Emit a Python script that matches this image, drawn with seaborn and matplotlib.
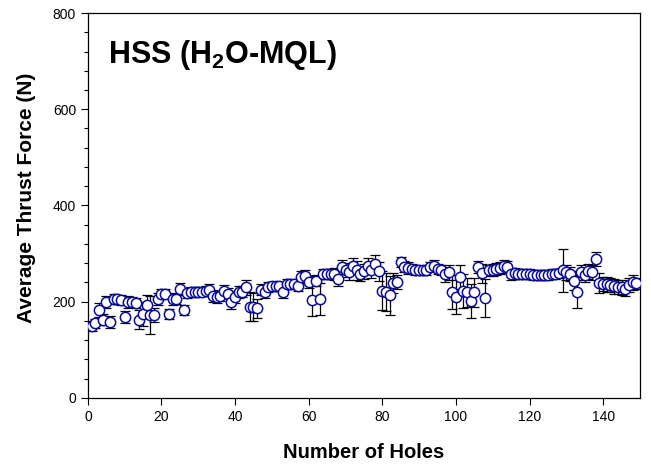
import numpy as np
import pandas as pd
import matplotlib
matplotlib.use("Agg")
import matplotlib.pyplot as plt
import seaborn as sns
from matplotlib.ticker import MultipleLocator

thrust = [
    149, 155, 183, 163, 199, 158, 206, 205, 204, 168,
    199, 199, 198, 163, 174, 194, 172, 173, 206, 217,
    217, 175, 206, 205, 227, 183, 218, 220, 220, 221,
    221, 223, 224, 212, 210, 211, 223, 217, 199, 210,
    220, 221, 230, 190, 189, 186, 225, 220, 230, 232,
    232, 232, 220, 237, 237, 236, 232, 251, 253, 241,
    203, 244, 205, 258, 258, 258, 258, 248, 272, 266,
    261, 275, 265, 258, 263, 275, 265, 279, 263, 223,
    220, 213, 239, 241, 282, 273, 270, 268, 266, 265,
    265, 265, 272, 275, 268, 266, 257, 261, 220, 210,
    251, 223, 220, 201, 220, 272, 259, 208, 265, 266,
    268, 270, 275, 272, 258, 259, 257, 258, 258, 257,
    256, 256, 256, 255, 255, 258, 258, 259, 265, 261,
    258, 244, 221, 261, 255, 263, 261, 289, 239, 237,
    236, 235, 232, 231, 230, 226, 235, 240, 238,
]
error = [
    10, 10, 15, 12, 12, 12, 10, 10, 10, 12,
    12, 10, 10, 20, 25, 20, 40, 15, 12, 10,
    10, 10, 12, 10, 12, 10, 10, 10, 10, 10,
    10, 10, 12, 12, 12, 10, 12, 12, 15, 12,
    12, 12, 15, 30, 30, 20, 12, 12, 10, 10,
    10, 10, 12, 10, 10, 10, 10, 12, 12, 12,
    33, 12, 33, 10, 10, 10, 12, 15, 15, 15,
    15, 15, 20, 15, 15, 15, 15, 18, 20, 40,
    40, 40, 20, 15, 10, 12, 12, 10, 10, 10,
    10, 10, 10, 12, 10, 10, 15, 15, 35, 35,
    25, 35, 30, 35, 30, 12, 20, 40, 12, 12,
    12, 12, 12, 12, 12, 12, 10, 10, 10, 10,
    10, 10, 10, 10, 10, 10, 10, 10, 45, 15,
    15, 20, 35, 15, 15, 15, 15, 15, 20, 15,
    15, 15, 15, 15, 15, 15, 15, 15, 12,
]
holes = np.arange(1, len(thrust) + 1)

df = pd.DataFrame({"Holes": holes, "Thrust": thrust, "Err": error})

sns.set_theme(style="white")
plt.rcParams["font.family"] = ["Liberation Sans", "DejaVu Sans"]
plt.rcParams["mathtext.fontset"] = "custom"
plt.rcParams["mathtext.rm"] = "Liberation Sans"
plt.rcParams["mathtext.bf"] = "Liberation Sans:bold"
for k in ["text.color", "axes.labelcolor", "xtick.color", "ytick.color"]:
    plt.rcParams[k] = "black"

fig = plt.figure(figsize=(6.51, 4.73), dpi=100)
ax = fig.add_axes([0.135, 0.1586, 0.848, 0.8139])

ax.errorbar(df["Holes"], df["Thrust"], yerr=df["Err"], fmt="none",
            ecolor="black", elinewidth=0.9, capsize=3.5, capthick=0.9, zorder=2)
sns.scatterplot(data=df, x="Holes", y="Thrust", ax=ax, marker="o", s=55,
                facecolor="white", edgecolor="#0a0a9a", linewidth=1.1, zorder=3)

ax.set_xlim(0, 150)
ax.set_ylim(0, 800)
ax.set_xticks([0, 20, 40, 60, 80, 100, 120, 140])
ax.set_yticks([0, 200, 400, 600, 800])
ax.yaxis.set_minor_locator(MultipleLocator(40))
ax.tick_params(axis="both", which="major", direction="out", length=5, width=0.8,
               labelsize=10, colors="black", bottom=True, left=True)
ax.tick_params(axis="y", which="minor", direction="out", length=3, width=0.8, left=True)

for s in ax.spines.values():
    s.set_color("black")
    s.set_linewidth(0.9)

ax.set_xlabel("Number of Holes", fontsize=14.5, fontweight="bold", labelpad=14)
ax.set_ylabel("Average Thrust Force (N)", fontsize=15, fontweight="bold")
ax.yaxis.set_label_coords(-0.094, 0.52)

ax.text(0.036, 0.87, r"HSS (H$_\mathbf{2}$O-MQL)", transform=ax.transAxes,
        fontsize=22, fontweight="bold", va="baseline", ha="left")

fig.savefig("out.png", dpi=100)
